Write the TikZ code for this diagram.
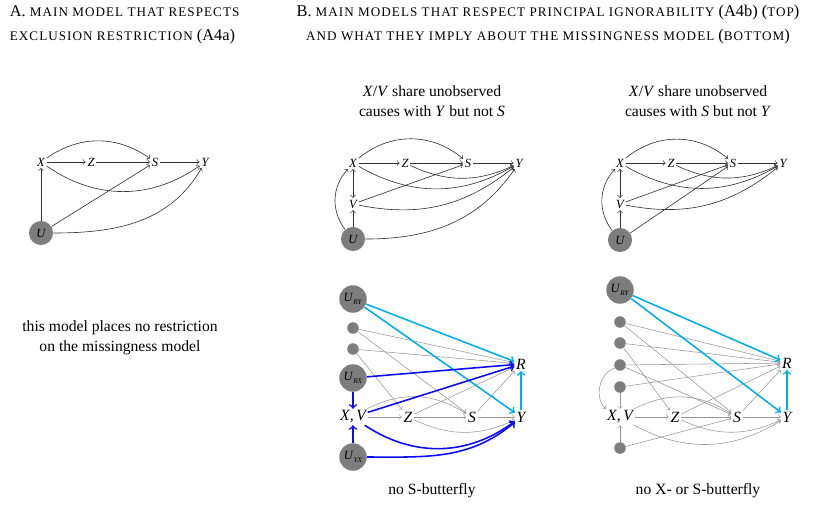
\documentclass[tikz,border=0pt]{standalone}
\usepackage{fontspec}
\setmainfont{Liberation Serif}
\definecolor{skyblue}{RGB}{0,174,239}
\definecolor{deepblue}{RGB}{10,10,245}
\definecolor{edgegray}{RGB}{150,150,150}
\definecolor{nodegray}{RGB}{125,125,125}
\newcommand{\fsc}[1]{{\fontsize{8.4}{9}\selectfont\addfontfeature{LetterSpace=8}#1}}
\newcommand{\latlab}[2]{\textit{#1}\raisebox{-0.45ex}{\fontsize{4.6}{5}\selectfont\textit{#2}}}
\begin{document}
\begin{tikzpicture}[x=0.64pt,y=-0.64pt]
	\tikzstyle{every node}+=[inner sep=1pt]
	\tikzstyle{var}=[font=\footnotesize\itshape]
	\tikzstyle{bvar}=[font=\normalsize\itshape]
	\tikzstyle{ulat}=[circle,fill=nodegray,inner sep=0pt,minimum size=15.4pt,font=\footnotesize\itshape]
	\tikzstyle{blat}=[circle,fill=nodegray,inner sep=0pt,minimum size=17.6pt,font=\footnotesize]
	\tikzstyle{dot}=[circle,fill=nodegray,inner sep=0pt,minimum size=7.4pt]
	\tikzstyle{arr}=[->,draw=black!80,line width=0.4pt]
	\tikzstyle{garr}=[->,draw=edgegray,line width=0.35pt]
	\tikzstyle{carr}=[->,draw=skyblue,line width=1pt]
	\tikzstyle{barr}=[->,draw=deepblue,line width=1pt]
	\tikzstyle{txt}=[align=center,font=\fontsize{10}{13}\selectfont]
	\useasboundingbox (0,0) rectangle (830,512);
	% titles
	\node [anchor=west,align=left,font=\fontsize{10.5}{15.4}\selectfont] (tita) at (8,25) {A. \fsc{MAIN MODEL THAT RESPECTS}\\\fsc{EXCLUSION RESTRICTION} (A4a)};
	\node [align=center,font=\fontsize{10.5}{15.4}\selectfont] (titb) at (548,25) {B. \fsc{MAIN MODELS THAT RESPECT PRINCIPAL IGNORABILITY} (A4b) (\fsc{TOP})\\\fsc{AND WHAT THEY IMPLY ABOUT THE MISSINGNESS MODEL} (\fsc{BOTTOM})};
	\node [txt] (suba) at (432,101) {\textit{X}/\textit{V} share unobserved\\causes with \textit{Y} but not \textit{S}};
	\node [txt] (subb) at (698,101) {\textit{X}/\textit{V} share unobserved\\causes with \textit{S} but not \textit{Y}};
	\node [txt] (nota) at (120,338) {this model places no restriction\\on the missingness model};
	\node [txt] (capa) at (432,491) {no S-butterfly};
	\node [txt] (capb) at (698,491) {no X- or S-butterfly};
	% panel A
	\node [var] (xa) at (41,162) {X};
	\node [var] (za) at (91,162) {Z};
	\node [var] (sa) at (155,162) {S};
	\node [var] (ya) at (205,162) {Y};
	\node [ulat] (ua) at (41,233) {U};
	\draw [arr] (xa) -- (za);
	\draw [arr] (za) -- (sa);
	\draw [arr] (sa) -- (ya);
	\draw [arr] (xa) to[bend left=35] (sa);
	\draw [arr] (xa) to[bend right=35] (ya);
	\draw [arr] (ua) -- (xa);
	\draw [arr] (ua) -- (sa);
	\draw [arr] (ua) to[out=0,in=240] (ya);
	% panel B top left
	\node [var] (xb) at (353,163) {X};
	\node [var] (zb) at (405,163) {Z};
	\node [var] (sb) at (468,163) {S};
	\node [var] (yb) at (519,163) {Y};
	\node [var] (vb) at (353,204) {V};
	\node [ulat] (ub) at (353,239) {U};
	\draw [arr] (xb) -- (zb);
	\draw [arr] (zb) -- (sb);
	\draw [arr] (sb) -- (yb);
	\draw [arr] (xb) to[bend left=40] (sb);
	\draw [arr] (xb) to[bend right=30] (yb);
	\draw [arr] (zb) to[bend right=25] (yb);
	\draw [arr,<->] (xb) -- (vb);
	\draw [arr] (ub) -- (vb);
	\draw [arr] (ub) to[bend left=40] (xb);
	\draw [arr] (vb) -- (sb);
	\draw [arr] (vb) to[bend right=25] (yb);
	\draw [arr] (ub) to[out=0,in=235] (yb);
	% panel B top right
	\node [var] (xc) at (620,163) {X};
	\node [var] (zc) at (671,163) {Z};
	\node [var] (sc) at (733,163) {S};
	\node [var] (yc) at (783,163) {Y};
	\node [var] (vc) at (620,204) {V};
	\node [ulat] (uc) at (620,240) {U};
	\draw [arr] (xc) -- (zc);
	\draw [arr] (zc) -- (sc);
	\draw [arr] (sc) -- (yc);
	\draw [arr] (xc) to[bend left=40] (sc);
	\draw [arr] (xc) to[bend right=30] (yc);
	\draw [arr] (zc) to[bend right=25] (yc);
	\draw [arr,<->] (xc) -- (vc);
	\draw [arr] (uc) -- (vc);
	\draw [arr] (uc) to[bend left=40] (xc);
	\draw [arr] (vc) -- (sc);
	\draw [arr] (vc) to[bend right=25] (yc);
	\draw [arr] (uc) -- (sc);
	% panel B bottom left
	\node [blat] (urd) at (353,299) {\latlab{U}{RY}};
	\node [dot] (d1d) at (353,328) {};
	\node [dot] (d2d) at (353,349) {};
	\node [blat] (uxd) at (353,378) {\latlab{U}{RX}};
	\node [bvar] (xvd) at (353,417) {X,\,V};
	\node [bvar] (zd) at (408,417) {Z};
	\node [bvar] (sd) at (472,417) {S};
	\node [bvar] (yd) at (521,417) {Y};
	\node [bvar] (rd) at (521,364) {R};
	\node [blat] (uyd) at (353,457) {\latlab{U}{YX}};
	\draw [garr] (d1d) -- (rd);
	\draw [garr] (d1d) -- (sd);
	\draw [garr] (d2d) -- (rd);
	\draw [garr] (d2d) -- (zd);
	\draw [garr] (xvd) -- (zd);
	\draw [garr] (xvd) to[bend left=30] (sd);
	\draw [garr] (zd) -- (sd);
	\draw [garr] (zd) -- (rd);
	\draw [garr] (zd) to[bend right=25] (yd);
	\draw [garr] (sd) -- (yd);
	\draw [garr] (sd) -- (rd);
	\draw [carr] (urd) -- (rd);
	\draw [carr] (urd) -- (yd);
	\draw [carr] (yd) -- (rd);
	\draw [barr] (uxd) -- (rd);
	\draw [barr] (uxd) -- (xvd);
	\draw [barr] (xvd) -- (rd);
	\draw [barr] (xvd) to[bend right=35] (yd);
	\draw [barr] (uyd) -- (xvd);
	\draw [barr] (uyd) to[out=0,in=220] (yd);
	% panel B bottom right
	\node [blat] (ure) at (620,290) {\latlab{U}{RY}};
	\node [dot] (d1e) at (620,322) {};
	\node [dot] (d2e) at (620,343) {};
	\node [dot] (d3e) at (620,365) {};
	\node [dot] (d4e) at (620,387) {};
	\node [bvar] (xve) at (620,417) {X,\,V};
	\node [bvar] (ze) at (675,417) {Z};
	\node [bvar] (se) at (737,417) {S};
	\node [bvar] (ye) at (787,417) {Y};
	\node [bvar] (re) at (787,363) {R};
	\node [dot] (d5e) at (620,448) {};
	\draw [garr] (d1e) -- (re);
	\draw [garr] (d1e) -- (se);
	\draw [garr] (d2e) -- (re);
	\draw [garr] (d2e) -- (ze);
	\draw [garr] (d3e) -- (re);
	\draw [garr] (d3e) -- (se);
	\draw [garr] (d3e) to[bend right=60] (xve);
	\draw [garr] (d4e) -- (re);
	\draw [garr] (d4e) -- (xve);
	\draw [garr] (d5e) -- (xve);
	\draw [garr] (d5e) -- (se);
	\draw [garr] (xve) -- (ze);
	\draw [garr] (xve) to[bend left=30] (se);
	\draw [garr] (xve) to[bend right=30] (ye);
	\draw [garr] (ze) -- (se);
	\draw [garr] (ze) -- (re);
	\draw [garr] (ze) to[bend right=25] (ye);
	\draw [garr] (se) -- (ye);
	\draw [garr] (se) -- (re);
	\draw [carr] (ure) -- (re);
	\draw [carr] (ure) -- (ye);
	\draw [carr] (ye) -- (re);
\end{tikzpicture}
\end{document}
